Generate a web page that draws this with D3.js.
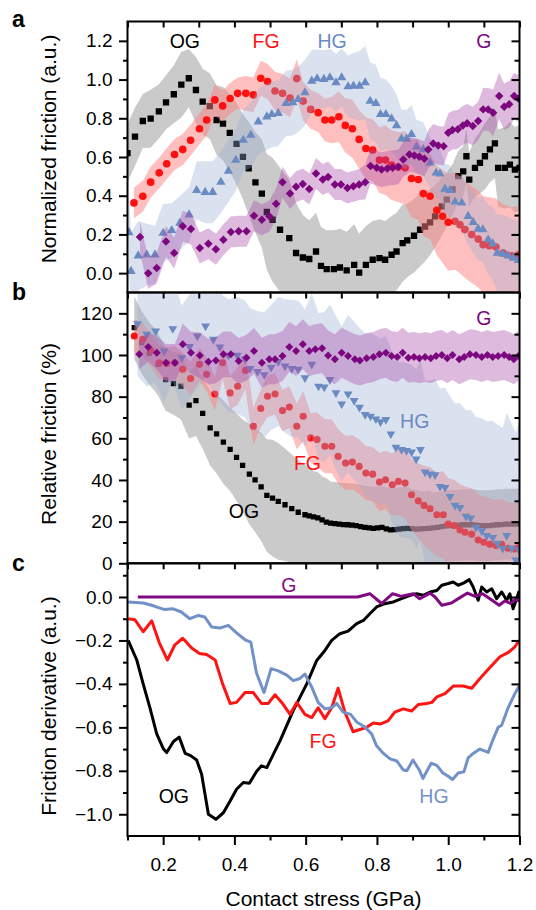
<!DOCTYPE html>
<html>
<head>
<meta charset="utf-8">
<script src="https://cdn.jsdelivr.net/npm/d3@7"></script>
<style>
  body { margin: 0; background: #fff; }
  text { font-family: "Liberation Sans", Arial, Helvetica, sans-serif; }
</style>
</head>
<body>
<div id="chart"></div>
<script>
// ---- Panel a: normalized friction (mean and band half-width) ----
const ogAx = [0.10,0.121,0.143,0.165,0.188,0.208,0.230,0.251,0.272,0.292,0.311,0.331,0.350,0.368,0.387,0.406,0.424,0.440,0.459,0.477,0.491,0.507,0.528,0.554,0.573,0.592,0.610,0.629,0.643,0.659,0.679,0.696,0.715,0.736,0.750,0.769,0.788,0.807,0.823,0.841,0.855,0.872,0.885,0.904,0.921,0.935,0.949,0.963,0.982,0.996,1.012,1.028,1.042,1.051,1.059,1.075,1.089,1.103,1.117,1.131,1.140,1.159,1.173,1.187,1.200];
const ogAy = [0.62,0.705,0.786,0.798,0.836,0.882,0.924,0.974,1.007,0.946,0.886,0.863,0.791,0.772,0.725,0.668,0.601,0.542,0.469,0.411,0.316,0.276,0.224,0.181,0.104,0.081,0.073,0.112,0.038,0.021,0.021,0.029,0.014,0.043,0.003,0.043,0.069,0.078,0.069,0.095,0.112,0.155,0.169,0.193,0.224,0.241,0.262,0.293,0.345,0.380,0.432,0.501,0.526,0.604,0.483,0.544,0.570,0.604,0.639,0.670,0.544,0.544,0.561,0.535,0.544];
const ogAerr = [0.15,0.15,0.14,0.15,0.14,0.14,0.15,0.17,0.15,0.17,0.17,0.17,0.18,0.19,0.2,0.21,0.22,0.24,0.26,0.28,0.3,0.32,0.32,0.3,0.26,0.22,0.2,0.2,0.2,0.2,0.2,0.2,0.2,0.21,0.2,0.2,0.2,0.2,0.2,0.2,0.2,0.2,0.19,0.19,0.19,0.18,0.17,0.16,0.15,0.14,0.13,0.13,0.13,0.14,0.14,0.15,0.16,0.17,0.17,0.18,0.2,0.21,0.22,0.22,0.22];

const fgAx = [0.118,0.143,0.165,0.189,0.210,0.232,0.255,0.277,0.302,0.322,0.345,0.367,0.388,0.409,0.432,0.453,0.474,0.493,0.514,0.535,0.556,0.575,0.593,0.614,0.635,0.654,0.673,0.693,0.711,0.731,0.750,0.769,0.788,0.807,0.824,0.841,0.860,0.879,0.897,0.916,0.930,0.949,0.968,0.984,1.000,1.019,1.033,1.047,1.066,1.084,1.098,1.115,1.134,1.154,1.178,1.197];
const fgAy = [0.363,0.397,0.470,0.518,0.565,0.613,0.639,0.686,0.746,0.791,0.895,0.864,0.902,0.929,0.929,0.921,1.007,0.990,0.941,0.929,0.905,1.005,0.889,0.846,0.829,0.791,0.791,0.808,0.763,0.746,0.691,0.644,0.636,0.584,0.584,0.558,0.548,0.544,0.489,0.484,0.411,0.397,0.325,0.294,0.263,0.268,0.250,0.225,0.199,0.176,0.147,0.142,0.135,0.104,0.090,0.095];
const fgAerr = [0.08,0.08,0.08,0.08,0.08,0.08,0.08,0.08,0.08,0.08,0.08,0.08,0.08,0.08,0.09,0.09,0.09,0.09,0.1,0.1,0.1,0.1,0.1,0.1,0.1,0.11,0.12,0.13,0.14,0.15,0.15,0.16,0.16,0.17,0.18,0.18,0.18,0.19,0.2,0.21,0.22,0.22,0.23,0.24,0.25,0.25,0.25,0.25,0.25,0.25,0.25,0.25,0.25,0.25,0.25,0.25];

const hgAx = [0.104,0.110,0.130,0.154,0.177,0.200,0.224,0.247,0.273,0.294,0.318,0.339,0.362,0.383,0.404,0.425,0.446,0.467,0.491,0.505,0.523,0.545,0.564,0.579,0.598,0.617,0.632,0.651,0.668,0.685,0.701,0.719,0.734,0.751,0.767,0.781,0.797,0.810,0.825,0.841,0.855,0.869,0.883,0.897,0.911,0.930,0.949,0.966,0.977,0.991,1.005,1.019,1.038,1.056,1.070,1.084,1.097,1.112,1.125,1.138,1.153,1.168,1.183,1.197];
const hgAy = [0.21,0.01,0.090,0.095,0.095,0.207,0.221,0.259,0.302,0.428,0.418,0.418,0.470,0.527,0.584,0.687,0.713,0.782,0.808,0.820,0.826,0.877,0.881,0.898,0.933,0.993,1.005,1.002,1.010,0.984,1.010,0.964,0.967,0.967,0.984,0.889,0.877,0.820,0.820,0.798,0.763,0.694,0.694,0.717,0.653,0.639,0.570,0.518,0.513,0.435,0.428,0.368,0.363,0.294,0.263,0.228,0.225,0.173,0.152,0.104,0.100,0.090,0.078,0.066];
const hgAerr = [0.2,0.2,0.18,0.16,0.15,0.15,0.14,0.14,0.14,0.15,0.16,0.16,0.16,0.16,0.16,0.16,0.17,0.17,0.17,0.17,0.17,0.17,0.17,0.17,0.17,0.16,0.15,0.15,0.15,0.15,0.15,0.16,0.17,0.18,0.19,0.2,0.2,0.19,0.18,0.17,0.16,0.15,0.15,0.15,0.14,0.14,0.13,0.13,0.13,0.13,0.13,0.13,0.14,0.15,0.16,0.16,0.17,0.18,0.19,0.2,0.2,0.2,0.2,0.2];

const gAx = [0.135,0.158,0.182,0.208,0.231,0.255,0.278,0.303,0.327,0.348,0.369,0.390,0.412,0.434,0.455,0.477,0.498,0.517,0.535,0.556,0.573,0.592,0.610,0.629,0.648,0.663,0.682,0.699,0.717,0.734,0.750,0.767,0.782,0.799,0.813,0.829,0.844,0.860,0.874,0.891,0.905,0.919,0.933,0.944,0.958,0.972,0.987,1.000,1.012,1.027,1.041,1.053,1.069,1.084,1.098,1.112,1.126,1.143,1.157,1.171,1.185,1.197];
const gAy = [0.187,0.000,0.026,0.164,0.104,0.242,0.228,0.130,0.152,0.124,0.173,0.212,0.216,0.216,0.297,0.276,0.294,0.359,0.470,0.411,0.446,0.461,0.435,0.515,0.484,0.497,0.458,0.458,0.440,0.449,0.458,0.470,0.553,0.544,0.535,0.541,0.544,0.549,0.587,0.613,0.608,0.601,0.591,0.639,0.670,0.660,0.656,0.725,0.739,0.743,0.763,0.774,0.760,0.786,0.846,0.846,0.829,0.915,0.860,0.872,0.915,0.902];
const gAerr = [0.08,0.08,0.08,0.08,0.08,0.08,0.08,0.08,0.08,0.08,0.08,0.08,0.08,0.08,0.08,0.08,0.08,0.08,0.08,0.08,0.08,0.08,0.08,0.08,0.08,0.08,0.08,0.08,0.08,0.08,0.08,0.09,0.09,0.09,0.09,0.09,0.09,0.09,0.09,0.09,0.09,0.09,0.09,0.1,0.1,0.1,0.1,0.1,0.1,0.1,0.1,0.1,0.1,0.1,0.11,0.11,0.12,0.12,0.12,0.12,0.12,0.12];

// ---- Panel b: relative friction (%) ----
const ogBx = [0.119,0.140,0.161,0.186,0.207,0.229,0.250,0.273,0.292,0.311,0.332,0.350,0.369,0.388,0.406,0.423,0.442,0.458,0.475,0.491,0.507,0.523,0.542,0.561,0.579,0.598,0.610,0.622,0.634,0.646,0.658,0.670,0.682,0.694,0.706,0.718,0.730,0.742,0.754,0.766,0.778,0.790,0.802,0.814,0.826,0.838,0.850,0.862,0.874,0.886,0.898,0.910,0.922,0.934,0.946,0.958,0.970,0.982,0.994,1.006,1.018,1.030,1.042,1.054,1.066,1.078,1.090,1.102,1.114,1.126,1.138,1.150,1.162,1.174,1.186,1.198];
const ogBy = [113.1,106,100.8,95.5,88.2,86.3,85.0,75.9,78.1,72.0,65.0,62.1,58.2,54.7,50.9,47.0,42.8,40.0,36.7,32.6,31.3,29.7,28.1,26.2,24.5,23.3,22.8,22.3,21.8,20.8,19.8,19.3,19.0,18.8,18.6,18.5,18.3,18.1,17.6,17.2,17.0,16.8,17.0,17.2,16.5,16.0,16.2,16.4,16.6,16.8,16.6,16.4,16.5,16.6,16.8,17.0,17.2,17.6,18.0,18.1,18.1,18.3,18.5,18.5,18.5,18.3,18.1,18.1,18.1,18.3,18.5,18.6,18.8,18.8,18.8,18.8];
const ogBerr = [15,15,15,15,15,15,16,16,17,17,18,19,20,20,21,22,24,25,26,27,28,28,27,26,25,24,23,22,22,21,21,20,20,20,20,20,20,20,20,20,20,20,20,20,20,20,20,20,20,20,19,19,18,18,18,17,17,17,17,17,17,17,17,17,17,17,17,17,17,17,17,17,17,17,17,17];

const fgBx = [0.119,0.143,0.165,0.189,0.210,0.233,0.255,0.277,0.302,0.322,0.345,0.367,0.388,0.409,0.431,0.453,0.474,0.493,0.514,0.535,0.554,0.575,0.593,0.614,0.632,0.654,0.673,0.691,0.712,0.731,0.750,0.769,0.788,0.807,0.824,0.843,0.860,0.879,0.897,0.916,0.932,0.949,0.968,0.986,1.000,1.017,1.033,1.047,1.066,1.084,1.100,1.117,1.134,1.150,1.168,1.187,1.197];
const fgBy = [109.1,107.5,102.2,96.3,95.9,96.3,93.1,88.7,95.5,90.7,81.3,96.3,81.8,85.0,92.6,65.8,74.3,80.2,81.3,73.3,75.0,65.8,70.6,60.2,59.4,56.2,56.2,51.3,48.1,48.6,46.5,43.3,42.8,39.0,40.1,37.7,39.3,38.5,32.9,30.0,27.8,26.2,23.3,23.3,18.8,18.1,16.0,14.9,14.0,11.2,10.1,9.1,8.5,9.1,7.2,6.9,7.5];
const fgBerr = [8,8,8,8,8,8,8,8,8,8,8,8,8,9,9,9,9,10,10,10,10,11,12,12,13,13,13,13,13,13,13,13,13,14,14,15,16,17,17,18,19,20,20,21,22,22,22,22,22,22,22,22,22,22,22,22,22];

const hgBx = [0.128,0.154,0.179,0.203,0.227,0.252,0.274,0.296,0.319,0.341,0.359,0.383,0.408,0.430,0.444,0.465,0.484,0.503,0.523,0.542,0.561,0.579,0.598,0.617,0.636,0.652,0.668,0.685,0.701,0.719,0.736,0.751,0.767,0.782,0.797,0.810,0.825,0.839,0.853,0.869,0.883,0.897,0.910,0.922,0.935,0.949,0.963,0.977,0.991,1.005,1.019,1.033,1.050,1.063,1.078,1.094,1.108,1.125,1.138,1.153,1.164,1.178,1.190,1.199];
const hgBy = [115.0,109.9,111.5,101.9,112.6,98.7,104,109.1,113.9,107.5,103.8,99.8,99.8,98,93.5,92,90.5,94,96.8,94.7,93.5,93.1,89.0,95.5,85.0,84.6,88.2,81.8,76.5,81.3,78.1,74.9,71.4,70.6,69.3,67.9,69.0,62.1,55.7,54.6,54.1,53.4,50,54.6,43.8,42.8,42.5,36.9,36.4,32.1,27.8,26.8,22.5,21.7,17.2,15.6,13.3,12.4,9.6,7.2,13.3,7.2,1.5,6.4];
const hgBerr = [25,25,25,25,25,25,25,25,25,26,26,27,28,28,29,29,30,30,31,32,33,33,33,34,35,36,36,37,37,38,38,38,39,40,40,40,40,41,41,42,42,42,43,43,44,45,46,47,48,48,49,50,51,52,53,54,55,56,57,58,59,60,61,62];

const gBx = [0.133,0.158,0.182,0.208,0.233,0.255,0.278,0.303,0.327,0.348,0.369,0.390,0.412,0.434,0.455,0.477,0.498,0.514,0.535,0.554,0.573,0.592,0.610,0.627,0.646,0.663,0.682,0.701,0.719,0.738,0.752,0.771,0.790,0.807,0.825,0.841,0.857,0.872,0.888,0.904,0.919,0.935,0.951,0.966,0.982,0.997,1.012,1.031,1.045,1.061,1.078,1.094,1.110,1.125,1.140,1.157,1.171,1.184,1.197];
const gBy = [100.3,103.8,101.1,96.3,96.3,105.1,101.1,99.8,96.8,97.4,100.3,100.3,97.1,98.7,101.9,96.3,97.9,97.9,99.5,103.8,101.9,105.1,101.9,102.7,103.2,99.8,97.9,101.1,99.5,97.9,97.4,98.4,99.0,100.3,101.1,99.5,99.0,101.1,98.7,99.0,98.4,99.0,98.4,99.5,100.0,98.4,100.0,97.9,99.0,100.3,100.0,99.0,100.0,99.0,99.5,100.0,99.0,97.9,99.5];
const gBerr = [7,7,8,9,9,10,10,11,11,11,11,11,11,11,11,12,12,12,12,12,12,12,12,12,12,12,12,12,12,12,12,12,12,12,12,12,12,12,12,12,12,12,12,12,12,12,12,12,12,12,12,12,12,12,12,12,12,12,12];

// ---- Panel c: friction derivative ----
const ogCx = [0.102,0.126,0.144,0.163,0.182,0.201,0.210,0.229,0.245,0.262,0.277,0.294,0.308,0.327,0.348,0.369,0.388,0.406,0.425,0.442,0.462,0.476,0.491,0.514,0.528,0.565,0.603,0.631,0.654,0.673,0.696,0.719,0.743,0.762,0.780,0.799,0.822,0.846,0.869,0.893,0.911,0.930,0.949,0.968,0.982,1.000,1.014,1.028,1.044,1.059,1.070,1.084,1.094,1.108,1.122,1.136,1.150,1.164,1.173,1.182,1.192,1.199];
const ogCy = [-0.20,-0.29,-0.40,-0.51,-0.63,-0.70,-0.716,-0.665,-0.645,-0.72,-0.73,-0.75,-0.816,-1.0,-1.023,-0.993,-0.939,-0.885,-0.854,-0.857,-0.803,-0.777,-0.785,-0.708,-0.662,-0.523,-0.40,-0.292,-0.246,-0.20,-0.169,-0.157,-0.123,-0.108,-0.077,-0.046,-0.031,-0.023,-0.008,0.008,0.015,0.008,0.023,0.03,0.054,0.062,0.069,0.054,0.065,0.080,0.046,-0.015,0.046,0.023,0.038,-0.008,0.023,-0.015,0.015,-0.054,-0.008,0.028];

const fgCx = [0.102,0.121,0.144,0.168,0.189,0.212,0.233,0.255,0.280,0.302,0.322,0.346,0.367,0.388,0.406,0.430,0.453,0.476,0.495,0.514,0.535,0.556,0.575,0.598,0.617,0.635,0.654,0.673,0.691,0.710,0.733,0.752,0.771,0.790,0.809,0.831,0.850,0.874,0.897,0.916,0.939,0.954,0.968,0.991,1.014,1.042,1.066,1.089,1.117,1.145,1.169,1.187,1.199];
const fgCy = [-0.10,-0.105,-0.16,-0.11,-0.21,-0.29,-0.22,-0.19,-0.235,-0.26,-0.265,-0.29,-0.40,-0.49,-0.485,-0.44,-0.44,-0.49,-0.49,-0.45,-0.49,-0.54,-0.485,-0.54,-0.555,-0.51,-0.56,-0.51,-0.42,-0.53,-0.62,-0.61,-0.60,-0.58,-0.585,-0.57,-0.53,-0.515,-0.525,-0.495,-0.49,-0.485,-0.46,-0.445,-0.41,-0.41,-0.42,-0.375,-0.325,-0.275,-0.255,-0.23,-0.20];

const hgCx = [0.102,0.144,0.168,0.187,0.205,0.226,0.251,0.275,0.299,0.317,0.336,0.360,0.383,0.406,0.430,0.446,0.462,0.483,0.503,0.523,0.547,0.565,0.584,0.598,0.617,0.635,0.654,0.673,0.687,0.705,0.726,0.743,0.767,0.785,0.799,0.818,0.837,0.856,0.873,0.884,0.901,0.920,0.929,0.952,0.968,0.985,1.000,1.012,1.028,1.044,1.056,1.070,1.089,1.112,1.126,1.140,1.150,1.168,1.187,1.199];
const hgCy = [-0.023,-0.028,-0.038,-0.049,-0.058,-0.054,-0.069,-0.10,-0.085,-0.092,-0.138,-0.143,-0.131,-0.165,-0.197,-0.208,-0.35,-0.44,-0.33,-0.34,-0.36,-0.385,-0.375,-0.355,-0.415,-0.485,-0.515,-0.51,-0.49,-0.53,-0.54,-0.575,-0.60,-0.63,-0.685,-0.72,-0.745,-0.755,-0.795,-0.80,-0.75,-0.80,-0.835,-0.765,-0.775,-0.81,-0.825,-0.84,-0.81,-0.805,-0.74,-0.72,-0.70,-0.715,-0.655,-0.60,-0.59,-0.51,-0.445,-0.41];

const gCx = [0.129,0.300,0.500,0.746,0.780,0.813,0.844,0.869,0.902,0.920,0.949,0.963,0.982,1.009,1.033,1.054,1.075,1.096,1.117,1.143,1.159,1.175,1.187,1.199];
const gCy = [0,0,0,0,0.015,-0.03,0.015,0.003,0.015,-0.008,0.018,0,-0.038,-0.028,-0.003,0.018,0.003,0.015,-0.008,-0.038,-0.018,-0.03,-0.012,-0.018];

// ---- Tick values ----
const xTicks = [0.2, 0.4, 0.6, 0.8, 1.0, 1.2];
const xMinor = [0.1, 0.3, 0.5, 0.7, 0.9, 1.1];
const aTicks = [0, 0.2, 0.4, 0.6, 0.8, 1.0, 1.2];
const aMinor = [0.1, 0.3, 0.5, 0.7, 0.9, 1.1];
const bTicks = [0, 20, 40, 60, 80, 100, 120];
const bMinor = [10, 30, 50, 70, 90, 110];
const cTicks = [0, -0.2, -0.4, -0.6, -0.8, -1.0];
const cMinor = [0.1, -0.1, -0.3, -0.5, -0.7, -0.9];

// ---- Layout ----
const width = 536;
const height = 910;
const plotLeft = 127.5;
const plotRight = 519.5;

const svg = d3.select('#chart')
  .append('svg')
  .attr('width', width)
  .attr('height', height)
  .style('display', 'block')

const x = d3.scaleLinear().domain([0.1, 1.2]).range([plotLeft, plotRight]);

const colors = { OG: '#000000', FG: '#ff1010', HG: '#6a8ac2', G: '#7b067e' };
const bandFill = {
  OG: { fill: '#b3b3b3', op: 0.7 },
  FG: { fill: '#ff8080', op: 0.5 },
  HG: { fill: '#9aaed4', op: 0.36 },
  G:  { fill: '#a54aa8', op: 0.38 }
};
const lineColors = { OG: '#000000', FG: '#ff1414', HG: '#7391c9', G: '#810a83' };

function rows(xs, ys, es) {
  return xs.map((v, i) => ({ x: v, y: ys[i], e: es ? es[i] : 0 }));
}

const panels = [
  {
    key: 'a', top: 21.5, bottom: 292.5, domain: [-0.1, 1.3],
    ticks: aTicks, minor: aMinor, fmt: d3.format('.1f'),
    title: 'Normalized friction (a.u.)', titleY: 149,
    series: [
      { name: 'OG', data: rows(ogAx, ogAy, ogAerr), shape: 'square' },
      { name: 'FG', data: rows(fgAx, fgAy, fgAerr), shape: 'circle' },
      { name: 'HG', data: rows(hgAx, hgAy, hgAerr), shape: 'triUp' },
      { name: 'G',  data: rows(gAx, gAy, gAerr), shape: 'diamond' }
    ],
    labels: [
      { t: 'OG', x: 0.261, y: 1.165 }, { t: 'FG', x: 0.489, y: 1.165 },
      { t: 'HG', x: 0.674, y: 1.165 }, { t: 'G', x: 1.100, y: 1.165 }
    ]
  },
  {
    key: 'b', top: 292.5, bottom: 563.3, domain: [0, 130],
    ticks: bTicks, minor: bMinor, fmt: d3.format('d'),
    title: 'Relative friction (%)', titleY: 434,
    series: [
      { name: 'OG', data: rows(ogBx, ogBy, ogBerr), shape: 'square', small: true },
      { name: 'FG', data: rows(fgBx, fgBy, fgBerr), shape: 'circle', small: true },
      { name: 'HG', data: rows(hgBx, hgBy, hgBerr), shape: 'triDown', small: true },
      { name: 'G',  data: rows(gBx, gBy, gBerr), shape: 'diamond', small: true }
    ],
    labels: [
      { t: 'G', x: 1.100, y: 114.4 }, { t: 'HG', x: 0.906, y: 64.8 },
      { t: 'FG', x: 0.605, y: 44.8 }, { t: 'OG', x: 0.427, y: 21.6 }
    ]
  },
  {
    key: 'c', top: 563.3, bottom: 836, domain: [-1.1, 0.155],
    ticks: cTicks, minor: cMinor, fmt: d3.format('.1f'),
    title: 'Friction derivative (a.u.)', titleY: 706,
    lines: [
      { name: 'OG', data: rows(ogCx, ogCy) },
      { name: 'FG', data: rows(fgCx, fgCy) },
      { name: 'HG', data: rows(hgCx, hgCy) },
      { name: 'G',  data: rows(gCx, gCy) }
    ],
    labels: [
      { t: 'G', x: 0.553, y: 0.024 }, { t: 'FG', x: 0.649, y: -0.696 },
      { t: 'HG', x: 0.960, y: -0.947 }, { t: 'OG', x: 0.230, y: -0.947 }
    ]
  }
];

function symbolPath(shape, small) {
  if (shape === 'square') return d3.symbol(d3.symbolSquare, small ? 28 : 40)();
  if (shape === 'circle') return d3.symbol(d3.symbolCircle, small ? 40 : 46)();
  if (shape === 'triUp' || shape === 'triDown') return d3.symbol(d3.symbolTriangle, small ? 34 : 38)();
  return d3.symbol(d3.symbolSquare, small ? 32 : 36)();
}
function symbolRotate(shape) {
  if (shape === 'triDown') return 180;
  if (shape === 'diamond') return 45;
  return 0;
}

panels.forEach(p => {
  const y = d3.scaleLinear().domain(p.domain).range([p.bottom, p.top]);

  svg.append('clipPath')
    .attr('id', 'clip-' + p.key)
    .append('rect')
    .attr('x', plotLeft)
    .attr('y', p.top)
    .attr('width', plotRight - plotLeft)
    .attr('height', p.bottom - p.top)

  const content = svg.append('g').attr('clip-path', 'url(#clip-' + p.key + ')');

  // bands and markers, one series at a time (each band tints what is under it)
  if (p.series) {
    const area = d3.area()
      .x(d => x(d.x))
      .y0(d => y(d.y - d.e))
      .y1(d => y(d.y + d.e))

    p.series.forEach(s => {
      content.append('path')
        .datum(s.data)
        .attr('d', area)
        .attr('fill', bandFill[s.name].fill)
        .attr('fill-opacity', bandFill[s.name].op)
        .attr('stroke', 'none')

      const path = symbolPath(s.shape, s.small);
      content.selectAll(null)
        .data(s.data)
        .enter()
        .append('path')
        .attr('d', path)
        .attr('transform', d => `translate(${x(d.x)},${y(d.y)}) rotate(${symbolRotate(s.shape)})`)
        .attr('fill', colors[s.name])
    })
  }

  if (p.lines) {
    const line = d3.line().x(d => x(d.x)).y(d => y(d.y));
    p.lines.forEach(s => {
      content.append('path')
        .datum(s.data)
        .attr('d', line)
        .attr('fill', 'none')
        .attr('stroke', lineColors[s.name])
        .attr('stroke-width', 3)
        .attr('stroke-linejoin', 'round')
    })
  }

  // in-plot labels
  svg.append('g')
    .selectAll('text')
    .data(p.labels)
    .enter()
    .append('text')
    .attr('x', d => x(d.x))
    .attr('y', d => y(d.y))
    .attr('text-anchor', 'middle')
    .attr('font-size', 19.5)
    .attr('fill', d => p.lines ? lineColors[d.t] : colors[d.t])
    .text(d => d.t)

  // left axis: labelled major ticks + minor ticks
  const leftMajor = svg.append('g')
    .attr('transform', `translate(${plotLeft},0)`)
    .call(d3.axisLeft(y).tickValues(p.ticks).tickFormat(p.fmt).tickSize(8.5).tickPadding(6.5))
  leftMajor.select('.domain').remove();
  leftMajor.selectAll('text').attr('font-size', 19).attr('font-family', '"Liberation Sans", Arial, sans-serif').attr('fill', '#000');

  svg.append('g')
    .attr('transform', `translate(${plotLeft},0)`)
    .call(d3.axisLeft(y).tickValues(p.minor).tickFormat('').tickSize(4.5))
    .call(g => g.select('.domain').remove())

  // right axis: inward ticks
  svg.append('g')
    .attr('transform', `translate(${plotRight},0)`)
    .call(d3.axisRight(y).tickValues(p.ticks).tickFormat('').tickSize(-8))
    .call(g => g.select('.domain').remove())
  svg.append('g')
    .attr('transform', `translate(${plotRight},0)`)
    .call(d3.axisRight(y).tickValues(p.minor).tickFormat('').tickSize(-5))
    .call(g => g.select('.domain').remove())

  // top edge: inward ticks every 0.1
  svg.append('g')
    .attr('transform', `translate(0,${p.top})`)
    .call(d3.axisTop(x).tickValues(xTicks.concat(xMinor)).tickFormat('').tickSize(-6))
    .call(g => g.select('.domain').remove())

  svg.selectAll('.tick line').attr('stroke-width', 2).attr('stroke', '#000');

  // frame
  svg.append('rect')
    .attr('x', plotLeft)
    .attr('y', p.top)
    .attr('width', plotRight - plotLeft)
    .attr('height', p.bottom - p.top)
    .attr('fill', 'none')
    .attr('stroke', '#000')
    .attr('stroke-width', 2)

  // y axis title
  svg.append('text')
    .attr('transform', `translate(55.5,${p.titleY}) rotate(-90)`)
    .attr('text-anchor', 'middle')
    .attr('font-size', 21)
    .text(p.title)

  // panel letter
  svg.append('text')
    .attr('x', 12)
    .attr('y', p.key === 'a' ? 27 : (p.key === 'b' ? 300 : 571))
    .attr('font-size', 23)
    .attr('font-weight', 'bold')
    .text(p.key)

  // bottom axis only under panel c
  if (p.key === 'c') {
    const bottomAxis = svg.append('g')
      .attr('transform', `translate(0,${p.bottom})`)
      .call(d3.axisBottom(x).tickValues(xTicks).tickFormat(d3.format('.1f')).tickSize(9).tickPadding(13))
    bottomAxis.select('.domain').remove();
    bottomAxis.selectAll('text').attr('font-size', 19).attr('font-family', '"Liberation Sans", Arial, sans-serif').attr('fill', '#000');
    svg.append('g')
      .attr('transform', `translate(0,${p.bottom})`)
      .call(d3.axisBottom(x).tickValues(xMinor).tickFormat('').tickSize(4.5))
      .call(g => g.select('.domain').remove())
    svg.selectAll('.tick line').attr('stroke-width', 2).attr('stroke', '#000');

    svg.append('text')
      .attr('x', (plotLeft + plotRight) / 2)
      .attr('y', 906)
      .attr('text-anchor', 'middle')
      .attr('font-size', 21)
      .text('Contact stress (GPa)')
  }
})
</script>
</body>
</html>
